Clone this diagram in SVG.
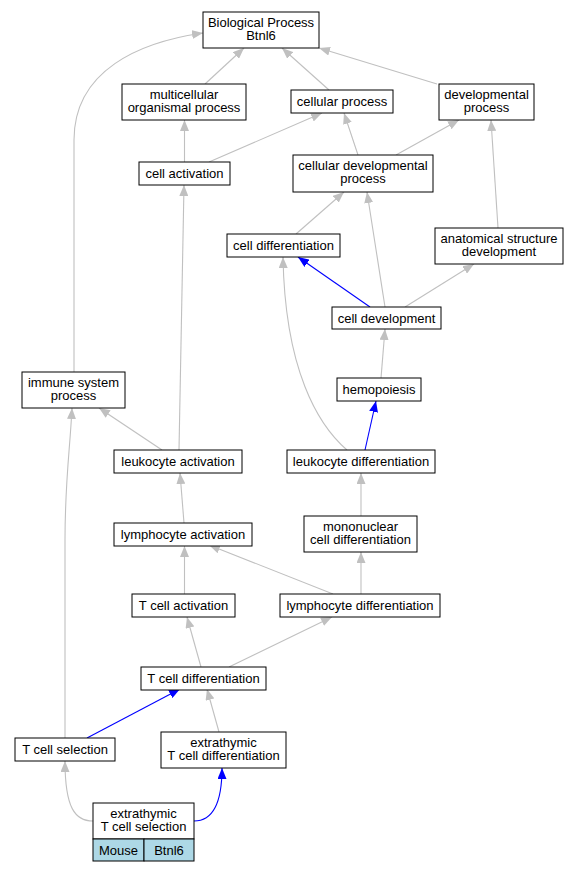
<svg xmlns="http://www.w3.org/2000/svg" width="579" height="872" viewBox="0 0 579 872">
<style>
.n rect{fill:#fff;stroke:#000;stroke-width:1}
.n text,.c text{font-family:"Liberation Sans",Arial,sans-serif;font-size:13px;text-anchor:middle;fill:#000}
.e path{fill:none;stroke-width:1.1}
.g{stroke:#c0c0c0}
.b{stroke:#0000ff}
.lb{fill:#add8e6!important}
</style>
<defs>
<marker id="ag" viewBox="0 0 11 9" markerWidth="11" markerHeight="9" refX="11" refY="4.5" orient="auto" markerUnits="userSpaceOnUse"><path d="M0,0 L11,4.5 L0,9 z" fill="#c0c0c0"/></marker>
<marker id="ab" viewBox="0 0 11 9" markerWidth="11" markerHeight="9" refX="11" refY="4.5" orient="auto" markerUnits="userSpaceOnUse"><path d="M0,0 L11,4.5 L0,9 z" fill="#0000ff"/></marker>
</defs>
<rect width="579" height="872" fill="#fff"/>
<g id="edges" class="e">
<path class="g" marker-end="url(#ag)" d="M205,84 L244,48"/>
<path class="g" marker-end="url(#ag)" d="M329,90 L282,48"/>
<path class="g" marker-end="url(#ag)" d="M437,84 L319,48"/>
<path class="g" marker-end="url(#ag)" d="M74,372 L74,140 C74,70 140,42 203,33"/>
<path class="g" marker-end="url(#ag)" d="M184.5,162 L184.5,120"/>
<path class="g" marker-end="url(#ag)" d="M209,162 L322,113"/>
<path class="g" marker-end="url(#ag)" d="M358,155 L344,113"/>
<path class="g" marker-end="url(#ag)" d="M396,155 L459,120"/>
<path class="g" marker-end="url(#ag)" d="M498,228 L491,120"/>
<path class="g" marker-end="url(#ag)" d="M296,234 L344,192"/>
<path class="g" marker-end="url(#ag)" d="M385,307 L367,192"/>
<path class="b" marker-end="url(#ab)" d="M370,307 L298,257"/>
<path class="g" marker-end="url(#ag)" d="M405,307 L474,264"/>
<path class="g" marker-end="url(#ag)" d="M381,378 L385,329"/>
<path class="g" marker-end="url(#ag)" d="M347,450 C318,425 285,370 283,257"/>
<path class="b" marker-end="url(#ab)" d="M365,450 L376,401"/>
<path class="g" marker-end="url(#ag)" d="M162,450 L99,408"/>
<path class="g" marker-end="url(#ag)" d="M179,450 L184,185"/>
<path class="g" marker-end="url(#ag)" d="M65,738 L65,540 C65,480 70,450 72,408"/>
<path class="g" marker-end="url(#ag)" d="M184,523 L180,473"/>
<path class="g" marker-end="url(#ag)" d="M184.5,594 L184.5,546"/>
<path class="g" marker-end="url(#ag)" d="M333,594 L209,545"/>
<path class="g" marker-end="url(#ag)" d="M361,594 L361,552"/>
<path class="g" marker-end="url(#ag)" d="M361,516 L361,473"/>
<path class="g" marker-end="url(#ag)" d="M201,667 L187,617"/>
<path class="g" marker-end="url(#ag)" d="M229,667 L332,617"/>
<path class="b" marker-end="url(#ab)" d="M87,738 L180,689"/>
<path class="g" marker-end="url(#ag)" d="M219,732 L207,689"/>
<path class="g" marker-end="url(#ag)" d="M93,821 C75,821 65,808 65,761"/>
<path class="b" marker-end="url(#ab)" d="M194,821 C212,821 222,805 222,768"/>
</g>
<g id="bp" class="n"><rect x="203" y="12" width="116" height="36"/><text x="261" y="26.5">Biological Process</text><text x="261" y="39.5">Btnl6</text></g>
<g id="multi" class="n"><rect x="122" y="84" width="124" height="36"/><text x="184" y="98.5">multicellular</text><text x="184" y="111.5">organismal process</text></g>
<g id="cellproc" class="n"><rect x="291" y="90" width="102" height="23"/><text x="342" y="106">cellular process</text></g>
<g id="devproc" class="n"><rect x="439" y="84" width="95" height="36"/><text x="486.5" y="98.5">developmental</text><text x="486.5" y="111.5">process</text></g>
<g id="cellact" class="n"><rect x="139" y="162" width="91" height="23"/><text x="184.5" y="178">cell activation</text></g>
<g id="celldevproc" class="n"><rect x="293" y="155" width="140" height="37"/><text x="363" y="169.5">cellular developmental</text><text x="363" y="182.5">process</text></g>
<g id="celldiff" class="n"><rect x="227" y="234" width="113" height="23"/><text x="283.5" y="250">cell differentiation</text></g>
<g id="anat" class="n"><rect x="435" y="228" width="128" height="36"/><text x="499" y="242.5">anatomical structure</text><text x="499" y="255.5">development</text></g>
<g id="celldev" class="n"><rect x="332" y="307" width="109" height="22"/><text x="386.5" y="322.5">cell development</text></g>
<g id="immune" class="n"><rect x="22" y="372" width="103" height="36"/><text x="73.5" y="386.5">immune system</text><text x="73.5" y="399.5">process</text></g>
<g id="hemo" class="n"><rect x="337" y="378" width="84" height="23"/><text x="379" y="394">hemopoiesis</text></g>
<g id="leukact" class="n"><rect x="114" y="450" width="128" height="23"/><text x="178" y="466">leukocyte activation</text></g>
<g id="leukdiff" class="n"><rect x="287" y="450" width="148" height="23"/><text x="361" y="466">leukocyte differentiation</text></g>
<g id="lymphact" class="n"><rect x="114" y="523" width="138" height="23"/><text x="183" y="539">lymphocyte activation</text></g>
<g id="mono" class="n"><rect x="304" y="516" width="113" height="36"/><text x="360.5" y="530.5">mononuclear</text><text x="360.5" y="543.5">cell differentiation</text></g>
<g id="tcellact" class="n"><rect x="132" y="594" width="103" height="23"/><text x="183.5" y="610">T cell activation</text></g>
<g id="lymphdiff" class="n"><rect x="280" y="594" width="160" height="23"/><text x="360" y="610">lymphocyte differentiation</text></g>
<g id="tcelldiff" class="n"><rect x="141" y="667" width="125" height="23"/><text x="203.5" y="683">T cell differentiation</text></g>
<g id="tcellsel" class="n"><rect x="15" y="738" width="100" height="23"/><text x="65" y="754">T cell selection</text></g>
<g id="extdiff" class="n"><rect x="161" y="732" width="125" height="36"/><text x="223.5" y="746.5">extrathymic</text><text x="223.5" y="759.5">T cell differentiation</text></g>
<g id="extsel" class="n"><rect x="93" y="803" width="101" height="36"/><text x="143.5" y="817.5">extrathymic</text><text x="143.5" y="830.5">T cell selection</text>
<rect class="lb" x="93" y="839" width="51" height="22"/><rect class="lb" x="144" y="839" width="50" height="22"/><text x="118.5" y="854.5">Mouse</text><text x="169" y="854.5">Btnl6</text></g>
</svg>
